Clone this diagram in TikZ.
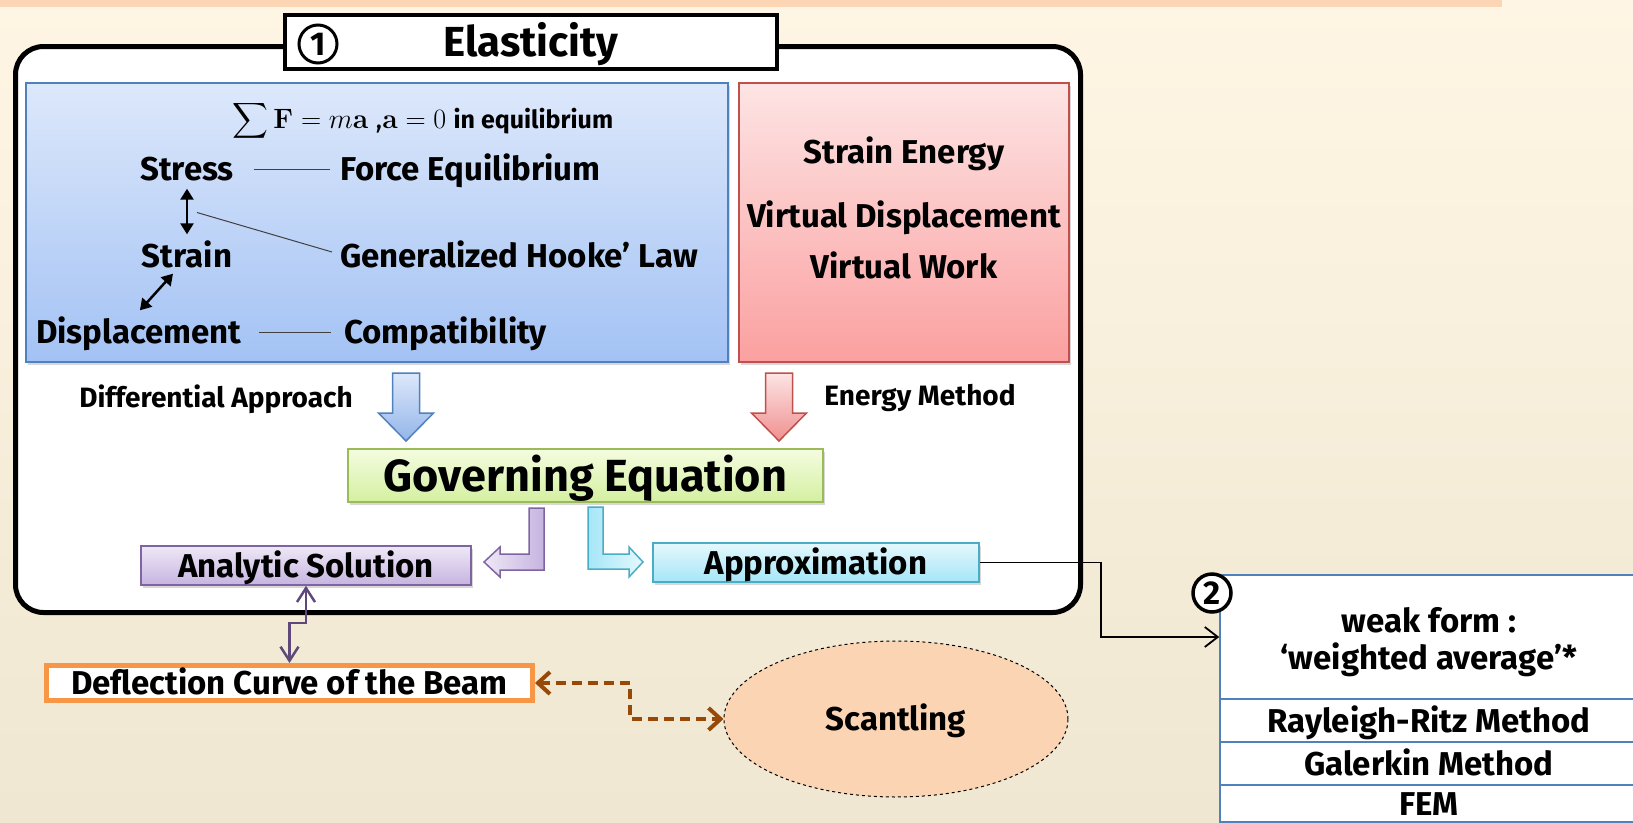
\RequirePackage{fix-cm}
\documentclass[tikz,border=0pt]{standalone}
\usepackage{amsmath}
\usepackage[no-math]{fontspec}
\setmainfont{Fira Sans}
\usepackage{tikz}
\usetikzlibrary{arrows.meta,positioning,shapes,shadows,calc}

\definecolor{bgtop}{HTML}{FFF5E4}
\definecolor{bgbot}{HTML}{EFE7D1}
\definecolor{peach}{HTML}{FCD5B4}
\definecolor{bluetop}{HTML}{DDE8FB}
\definecolor{bluebot}{HTML}{A3C2F4}
\definecolor{bluebd}{HTML}{4F81BD}
\definecolor{redtop}{HTML}{FDE4E4}
\definecolor{redbot}{HTML}{FBA0A0}
\definecolor{redbd}{HTML}{C0504D}
\definecolor{govtop}{HTML}{F4FCE0}
\definecolor{govbot}{HTML}{D4F0A0}
\definecolor{govbd}{HTML}{9BBB59}
\definecolor{anatop}{HTML}{EEE8F6}
\definecolor{anabot}{HTML}{C6B4E0}
\definecolor{purbd}{HTML}{8064A2}
\definecolor{apptop}{HTML}{E5F8FD}
\definecolor{appbot}{HTML}{A5E6F7}
\definecolor{cyanbd}{HTML}{4BACC6}
\definecolor{purline}{HTML}{5F497A}
\definecolor{brownln}{HTML}{984807}
\definecolor{orangebd}{HTML}{F79646}
\definecolor{scantfill}{HTML}{FBD4B4}

\begin{document}
\begin{tikzpicture}[x=1pt,y=-1pt,
  txt/.style={font=\bfseries\fontsize{33}{38}\selectfont, inner sep=0pt, text height=23pt, text depth=0pt},
  small/.style={font=\bfseries\fontsize{28}{32}\selectfont, inner sep=0pt, text height=19pt, text depth=0pt},
  shade/.style={drop shadow={shadow xshift=2pt,shadow yshift=-3pt,opacity=.3}},
  blockarr/.style={line width=1.5pt},
  relline/.style={line width=1pt, black!75},
  dblarr/.style={line width=2.5pt, {Triangle[length=11pt,width=13pt]}-{Triangle[length=11pt,width=13pt]}},
  cell/.style={draw=bluebd, line width=1.5pt, fill=white, minimum width=418pt, minimum height=43pt},
  link/.style={line width=1.8pt, -{Straight Barb[length=13pt,width=20pt]}},
  purlink/.style={line width=2.5pt, purline, {Straight Barb[length=14pt,width=18pt]}-{Straight Barb[length=14pt,width=18pt]}},
  brlink/.style={line width=4pt, brownln, dash pattern=on 10pt off 6pt,
    {Straight Barb[length=12pt,width=22pt]}-{Straight Barb[length=12pt,width=22pt]}}]

\clip (0,0) rectangle (1633,822);
% background
\fill[top color=bgtop, bottom color=bgbot] (0,0) rectangle (1633,822);
\fill[peach] (0,0) rectangle (1502,7);

% Elasticity frame
\node[draw, line width=5pt, rounded corners=28pt, fill=white, minimum width=1065pt, minimum height=566pt] (frame) at (548,329.5) {};
\node[draw, line width=4pt, fill=white, minimum width=492pt, minimum height=54pt, txt,
  font=\bfseries\fontsize{42}{48}\selectfont, text height=29pt] (title) at (531,42) {Elasticity};
\node[circle, draw, line width=3pt, minimum size=38pt, txt] (one) at (318,44) {1};

% Differential side
\node[draw=bluebd, line width=1.5pt, top color=bluetop, bottom color=bluebot, minimum width=702pt, minimum height=279pt, shade] (diff) at (377,222.5) {};
\node[inner sep=0pt, anchor=base] (newton) at (423,128) {\fontsize{28}{34}\selectfont$\displaystyle\sum\mathbf{F}=m\mathbf{a}$ ,$\mathbf{a}=0$ \bfseries\fontsize{25}{30}\selectfont in equilibrium};
\node[txt] (stress) at (187,169) {Stress};
\node[txt, anchor=west] (force) at (340,169) {Force Equilibrium};
\node[txt] (strain) at (187,256) {Strain};
\node[txt, anchor=west] (hooke) at (340,256) {Generalized Hooke’ Law};
\node[txt, anchor=west] (disp) at (36,332) {Displacement};
\node[txt, anchor=west] (compat) at (344,332) {Compatibility};
\draw[relline, shorten <=20pt, shorten >=10pt] (stress) -- (force);
\draw[relline, shorten <=17pt, shorten >=13pt] (disp) -- (compat);
\draw[dblarr, shorten <=8pt, shorten >=10pt] (stress.south) -- (strain.north);
\draw[relline] ($(stress.south)!.5!(strain.north)+(10,0)$) -- ($(hooke.west)+(-8,-4)$);
\draw[dblarr] ($(strain.south)+(-14,6)$) -- ($(disp.north)+(1,-10)$);

% Energy side
\node[draw=redbd, line width=1.5pt, top color=redtop, bottom color=redbot, minimum width=330pt, minimum height=279pt, shade] (energy) at (904,222.5) {};
\node[txt] (senergy) at (904,152) {Strain Energy};
\node[txt] (vdisp) at (904,216) {Virtual Displacement};
\node[txt] (vwork) at (904,267) {Virtual Work};

% block arrows
\draw[blockarr, draw=bluebd, top color=bluetop, bottom color=bluebot!80!bluebd, shift={(406,373)}]
  (-13.5,0) -- (13.5,0) -- (13.5,40) -- (27.5,40) -- (0,68) -- (-27.5,40) -- (-13.5,40) -- cycle;
\draw[blockarr, draw=redbd, top color=redtop, bottom color=redbot!80!redbd, shift={(779,373)}]
  (-13.5,0) -- (13.5,0) -- (13.5,40) -- (27.5,40) -- (0,68) -- (-27.5,40) -- (-13.5,40) -- cycle;
\node[small] (diffl) at (216,398) {Differential Approach};
\node[small] (enerl) at (920,396) {Energy Method};

% Governing equation
\node[draw=govbd, line width=1.5pt, top color=govtop, bottom color=govbot, minimum width=475pt, minimum height=53pt, shade,
  txt, font=\bfseries\fontsize{45}{50}\selectfont, text height=31pt] (gov) at (585.5,475.5) {Governing Equation};
\node[draw=purbd, line width=1.5pt, top color=anatop, bottom color=anabot, minimum width=330pt, minimum height=39pt, shade, txt] (analytic) at (306,565.5) {Analytic Solution};
\node[draw=cyanbd, line width=1.5pt, top color=apptop, bottom color=appbot, minimum width=326pt, minimum height=39pt, shade, txt] (approx) at (816,562.5) {Approximation};
\draw[blockarr, purbd, left color=anatop, right color=anabot]
  (529,508) -- (544,508) -- (544,570) -- (500,570) -- (500,577) -- (484,562) -- (500,547) -- (500,554) -- (529,554) -- cycle;
\draw[blockarr, cyanbd, left color=appbot, right color=apptop]
  (588,507) -- (603,507) -- (603,554) -- (629,554) -- (629,547) -- (643,562) -- (629,577) -- (629,569) -- (588,569) -- cycle;

% beam and scantling
\node[draw=orangebd, line width=5pt, fill=white, minimum width=486pt, minimum height=35pt, txt] (defl) at (289.5,683) {Deflection Curve of the Beam};
\node[ellipse, draw, dashed, line width=1pt, fill=scantfill, minimum width=344pt, minimum height=156pt, txt] (scant) at (896,719) {Scantling};
\draw[purlink] (analytic.south) |- ($(defl.north)+(0,-40)$) -- (defl.north);
\draw[brlink] (defl.east) -- ++(95,0) |- (scant.west);

% weak form
\node[cell, minimum height=124pt] (weak) at (1429,637) {};
\node[font=\bfseries\fontsize{33}{37}\selectfont, align=center, inner sep=0pt] (weaktxt) at (1429,642) {weak form :\\‘weighted average’*};
\node[cell, txt] (ritz) at (1429,720.5) {Rayleigh-Ritz Method};
\node[cell, txt] (galerkin) at (1429,763.5) {Galerkin Method};
\node[cell, txt, minimum height=37pt] (fem) at (1429,803.5) {FEM};
\node[circle, draw, line width=3.5pt, fill=white, minimum size=38pt, txt] (two) at (1212,593) {2};
\draw[link] (approx.east) -- ++(121,0) |- (weak.west);
\end{tikzpicture}
\end{document}
